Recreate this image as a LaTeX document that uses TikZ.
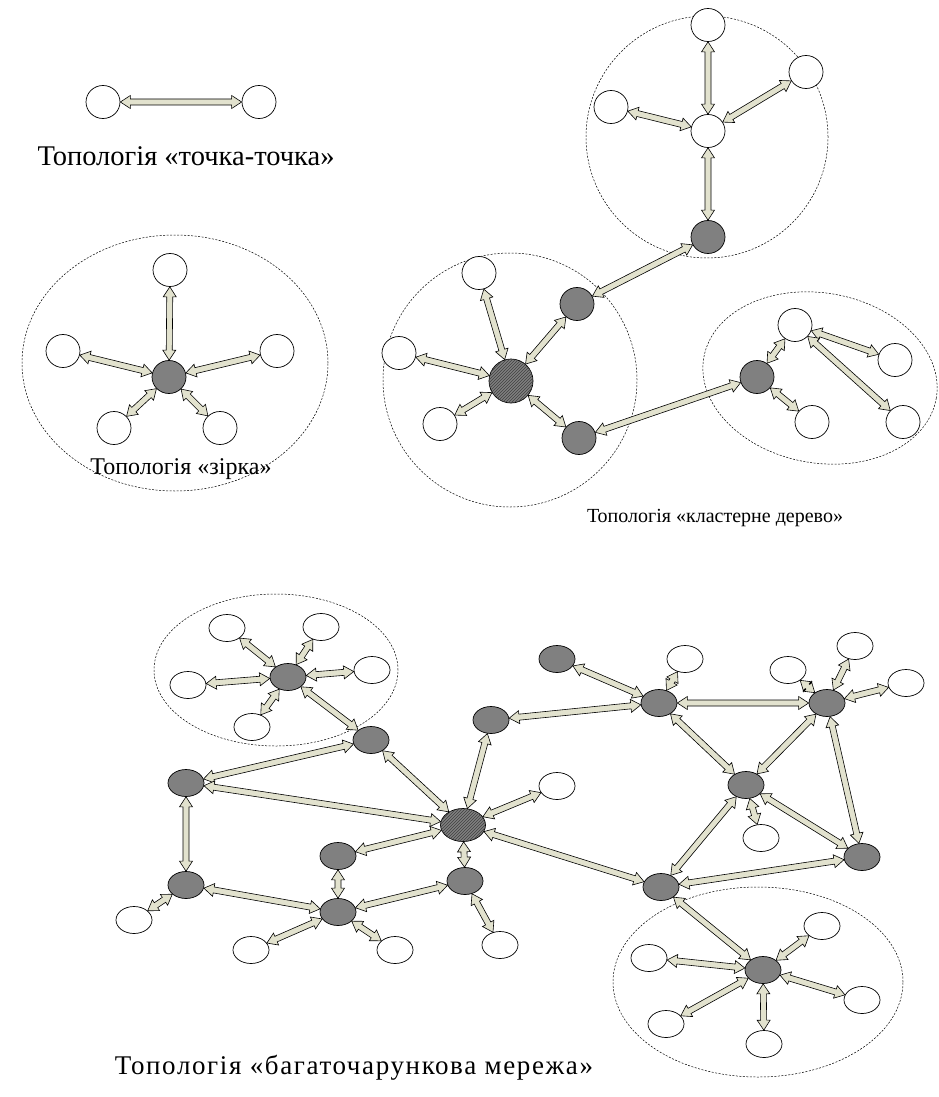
\documentclass[tikz,border=0pt]{standalone}
\usepackage{fontspec}
\setmainfont{Liberation Serif}
\newfontfamily\widefont[LetterSpace=6]{Liberation Serif}
\usetikzlibrary{shapes.geometric, patterns, calc}

\definecolor{nodegray}{RGB}{128,128,128}
\definecolor{linkfill}{RGB}{226,226,206}

\tikzset{
  station/.style={
    ellipse, draw=black, line width=0.7pt, fill=white, inner sep=0pt,
    minimum width=34pt, minimum height=33pt
  },
  relay/.style={station, fill=nodegray},
  headnode/.style={relay, postaction={pattern=north east lines, pattern color=black!75}},
  mstation/.style={station, minimum width=36pt, minimum height=27pt},
  mrelay/.style={relay, minimum width=36pt, minimum height=27pt},
  zone/.style={ellipse, draw=black, line width=0.5pt, dash pattern=on 2pt off 1.5pt, inner sep=0pt},
  link/.style={fill=linkfill, draw=black, line width=0.6pt, line join=miter},
  caption/.style={font=\fontsize{21}{25}\selectfont}
}

% two-way block arrow between two nodes
\newcommand{\tiplen}{10pt}
\newcommand{\tipwid}{6.5pt}
\newcommand{\shaftwid}{3pt}
\newcommand{\duplex}[2]{%
  \path (#1) -- (#2) coordinate[pos=0] (ls) coordinate[pos=1] (lt);
  \filldraw[link] (ls)
    -- ($(ls)!\tiplen!(lt)!\tipwid!90:(lt)$)
    -- ($(ls)!\tiplen!(lt)!\shaftwid!90:(lt)$)
    -- ($(lt)!\tiplen!(ls)!\shaftwid!-90:(ls)$)
    -- ($(lt)!\tiplen!(ls)!\tipwid!-90:(ls)$)
    -- (lt)
    -- ($(lt)!\tiplen!(ls)!\tipwid!90:(ls)$)
    -- ($(lt)!\tiplen!(ls)!\shaftwid!90:(ls)$)
    -- ($(ls)!\tiplen!(lt)!\shaftwid!-90:(lt)$)
    -- ($(ls)!\tiplen!(lt)!\tipwid!-90:(lt)$)
    -- cycle;}

\begin{document}
\begin{tikzpicture}[x=1pt, y=-1pt]
  \useasboundingbox (0,0) rectangle (939,1097);

  % dashed zones
  \node[zone, minimum width=306pt, minimum height=256pt] (zstar) at (175,363) {};
  \node[zone, minimum size=242pt] (ztop) at (707,137) {};
  \node[zone, minimum size=254pt] (zleft) at (510,380) {};
  \node[zone, minimum width=236pt, minimum height=170pt, rotate=-10] (zright) at (820,378) {};
  \node[zone, minimum width=244pt, minimum height=152pt] (zmesh) at (276,670) {};
  \node[zone, minimum width=290pt, minimum height=190pt] (zbottom) at (758,982) {};

  % point-to-point
  \node[station] (p1) at (103,102) {};
  \node[station] (p2) at (259,102) {};
  \duplex{p1}{p2}
  \node[caption, font=\fontsize{28.5}{32}\selectfont] (capA) at (186,156) {Топологія «точка-точка»};

  % star
  \node[relay] (s0) at (169,377) {};
  \node[station] (s1) at (170,270) {};
  \node[station] (s2) at (63,351) {};
  \node[station] (s3) at (277,351) {};
  \node[station] (s4) at (114,428) {};
  \node[station] (s5) at (220,428) {};
  \duplex{s0}{s1}
  \duplex{s0}{s2}
  \duplex{s0}{s3}
  \duplex{s0}{s4}
  \duplex{s0}{s5}
  \node[caption, font=\fontsize{24}{28}\selectfont] (capB) at (181,469) {Топологія «зірка»};

  % cluster tree
  \node[station] (t1) at (708,25) {};
  \node[station] (t2) at (806,72) {};
  \node[station] (t3) at (611,107) {};
  \node[station] (t0) at (708,131) {};
  \node[relay] (tg) at (708,237) {};
  \duplex{t0}{t1}
  \duplex{t0}{t2}
  \duplex{t0}{t3}
  \duplex{t0}{tg}

  \node[headnode, minimum size=44pt] (k0) at (511,381) {};
  \node[station] (k1) at (479,273) {};
  \node[station] (k2) at (399,353) {};
  \node[station] (k3) at (440,424) {};
  \node[relay] (kg1) at (577,304) {};
  \node[relay] (kg2) at (579,438) {};
  \duplex{k0}{k1}
  \duplex{k0}{k2}
  \duplex{k0}{k3}
  \duplex{k0}{kg1}
  \duplex{k0}{kg2}
  \duplex{kg1}{tg}

  \node[relay] (r0) at (757,377) {};
  \node[station] (r1) at (795,325) {};
  \node[station] (r2) at (895,360) {};
  \node[station] (r3) at (812,422) {};
  \node[station] (r4) at (903,422) {};
  \duplex{kg2}{r0}
  \duplex{r0}{r1}
  \duplex{r0}{r3}
  \duplex{r1}{r2}
  \duplex{r1}{r4}
  \node[caption, font=\fontsize{20}{24}\selectfont] (capC) at (715,518) {Топологія «кластерне дерево»};

  % mesh
  \node[mrelay] (m0) at (288,677) {};
  \node[mstation] (m1) at (227,628) {};
  \node[mstation] (m2) at (321,627) {};
  \node[mstation] (m3) at (372,670) {};
  \node[mstation] (m4) at (188,685) {};
  \node[mstation] (m5) at (252,727) {};
  \node[mrelay] (g1) at (371,740) {};
  \node[mrelay] (l1) at (186,783) {};
  \node[mrelay] (l2) at (186,885) {};
  \node[mstation] (w1) at (134,920) {};
  \node[mrelay] (b1) at (338,856) {};
  \node[mrelay] (b2) at (338,912) {};
  \node[mstation] (w2) at (251,950) {};
  \node[mstation] (w3) at (395,950) {};
  \node[mrelay] (n3) at (465,881) {};
  \node[mstation] (w4) at (500,945) {};
  \node[headnode, minimum width=45pt, minimum height=33pt] (hub) at (463,825) {};
  \node[mrelay] (n2) at (491,720) {};
  \node[mstation] (w5) at (557,786) {};
  \node[mrelay] (n1) at (557,659) {};
  \node[mrelay] (a0) at (659,703) {};
  \node[mstation] (wa) at (685,659) {};
  \node[mrelay] (b0) at (827,703) {};
  \node[mstation] (wb1) at (788,670) {};
  \node[mstation] (wb2) at (855,646) {};
  \node[mstation] (wb3) at (906,683) {};
  \node[mrelay] (d0) at (746,785) {};
  \node[mstation] (wd) at (761,838) {};
  \node[mrelay] (e0) at (862,857) {};
  \node[mrelay] (q0) at (661,887) {};
  \node[mrelay] (c0) at (763,970) {};
  \node[mstation] (wc1) at (649,958) {};
  \node[mstation] (wc2) at (822,926) {};
  \node[mstation] (wc3) at (862,1000) {};
  \node[mstation] (wc4) at (666,1024) {};
  \node[mstation] (wc5) at (764,1044) {};

  \duplex{m0}{m1}
  \duplex{m0}{m2}
  \duplex{m0}{m3}
  \duplex{m0}{m4}
  \duplex{m0}{m5}
  \duplex{m0}{g1}
  \duplex{g1}{l1}
  \duplex{g1}{hub}
  \duplex{l1}{hub}
  \duplex{l1}{l2}
  \duplex{l2}{w1}
  \duplex{l2}{b2}
  \duplex{b1}{hub}
  \duplex{b1}{b2}
  \duplex{b2}{w2}
  \duplex{b2}{w3}
  \duplex{b2}{n3}
  \duplex{n3}{hub}
  \duplex{n3}{w4}
  \duplex{hub}{n2}
  \duplex{hub}{w5}
  \duplex{hub}{q0}
  \duplex{n2}{a0}
  \duplex{n1}{a0}
  \duplex{a0}{wa}
  \duplex{a0}{b0}
  \duplex{a0}{d0}
  \duplex{b0}{d0}
  \duplex{b0}{wb1}
  \duplex{b0}{wb2}
  \duplex{b0}{wb3}
  \duplex{b0}{e0}
  \duplex{d0}{wd}
  \duplex{d0}{e0}
  \duplex{d0}{q0}
  \duplex{q0}{e0}
  \duplex{q0}{c0}
  \duplex{c0}{wc1}
  \duplex{c0}{wc2}
  \duplex{c0}{wc3}
  \duplex{c0}{wc4}
  \duplex{c0}{wc5}
  \node[caption, font=\widefont\fontsize{27}{31}\selectfont] (capD) at (354,1068) {Топологія «багаточарункова мережа»};
\end{tikzpicture}
\end{document}
